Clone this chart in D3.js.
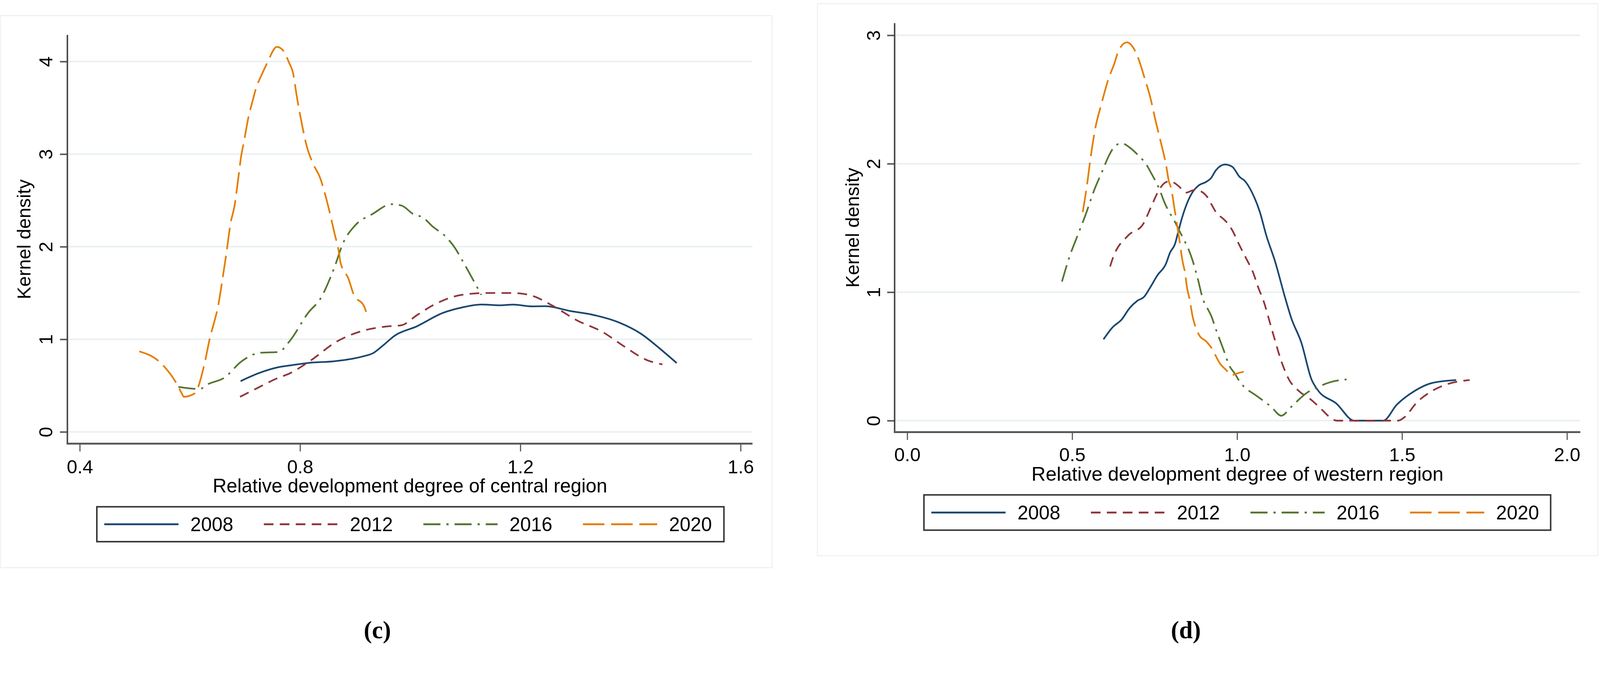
<!DOCTYPE html>
<html>
<head>
<meta charset="utf-8">
<script src="https://cdn.jsdelivr.net/npm/d3@7"></script>
<style>
  html, body { margin: 0; padding: 0; background: #fff; width: 100%; height: 100%; overflow: hidden; }
  svg { display: block; width: 100vw; height: 100vh; }
  text { font-family: "Liberation Sans", Arial, sans-serif; fill: #000; }
</style>
</head>
<body>
<svg id="chart"></svg>
<script>
// Years shown in both legends
const years = ["2008", "2012", "2016", "2020"];

// Tick values
const centralXTicks = [0.4, 0.8, 1.2, 1.6];
const centralYTicks = [0, 1, 2, 3, 4];
const westernXTicks = [0.0, 0.5, 1.0, 1.5, 2.0];
const westernYTicks = [0, 1, 2, 3];

// Kernel density, central region: [relative development degree, density]
const central2008 = [[0.692,0.548],[0.724,0.632],[0.758,0.695],[0.781,0.717],[0.815,0.745],[0.862,0.763],
  [0.895,0.79],[0.914,0.815],[0.934,0.855],[0.95,0.93],[0.972,1.04],[1.012,1.14],[1.059,1.284],[1.095,1.345],
  [1.129,1.376],[1.163,1.367],[1.187,1.375],[1.221,1.356],[1.245,1.358],[1.291,1.305],[1.332,1.264],
  [1.378,1.184],[1.419,1.06],[1.454,0.896],[1.484,0.743]];
const central2012 = [[0.691,0.379],[0.724,0.478],[0.758,0.578],[0.781,0.631],[0.815,0.753],[0.868,0.98],
  [0.914,1.092],[0.955,1.137],[0.984,1.152],[1.013,1.264],[1.048,1.388],[1.094,1.48],[1.14,1.50],[1.187,1.50],
  [1.222,1.469],[1.257,1.368],[1.303,1.204],[1.349,1.08],[1.39,0.917],[1.43,0.775],[1.458,0.729]];
const central2016 = [[0.579,0.486],[0.618,0.463],[0.631,0.51],[0.663,0.587],[0.694,0.763],[0.728,0.855],
  [0.761,0.863],[0.781,0.98],[0.8145,1.284],[0.838,1.449],[0.861,1.755],[0.879,2.05],[0.90,2.23],[0.932,2.355],
  [0.966,2.459],[0.984,2.445],[1.007,2.347],[1.022,2.319],[1.042,2.212],[1.065,2.106],[1.082,1.98],
  [1.094,1.858],[1.129,1.48]];
const central2020 = [[0.508,0.87],[0.5435,0.763],[0.5635,0.632],[0.577,0.51],[0.585,0.418],[0.589,0.379],
  [0.607,0.41],[0.614,0.471],[0.626,0.724],[0.637,1.032],[0.644,1.184],[0.651,1.353],[0.659,1.645],
  [0.666,1.92],[0.674,2.258],[0.681,2.44],[0.688,2.748],[0.693,2.976],[0.698,3.13],[0.706,3.39],
  [0.7145,3.59],[0.7194,3.698],[0.731,3.866],[0.7396,3.975],[0.758,4.158],[0.768,4.127],[0.781,3.975],
  [0.7865,3.894],[0.795,3.59],[0.804,3.304],[0.812,3.088],[0.824,2.892],[0.836,2.749],[0.85,2.463],
  [0.862,2.158],[0.871,1.925],[0.8735,1.827],[0.888,1.653],[0.897,1.49],[0.917,1.346],[0.92,1.296]];

// Kernel density, western region
const western2008 = [[0.595,0.633],[0.623,0.728],[0.65,0.787],[0.674,0.876],[0.698,0.934],[0.718,0.964],
  [0.735,1.03],[0.758,1.13],[0.784,1.22],[0.797,1.31],[0.812,1.377],[0.821,1.465],[0.834,1.587],
  [0.849,1.697],[0.864,1.775],[0.883,1.83],[0.9055,1.858],[0.92,1.885],[0.936,1.95],[0.963,1.994],
  [0.985,1.977],[1.008,1.896],[1.023,1.867],[1.046,1.772],[1.069,1.624],[1.088,1.446],[1.115,1.24],
  [1.145,0.962],[1.164,0.80],[1.195,0.605],[1.2255,0.321],[1.244,0.24],[1.301,0.133],[1.355,0],
  [1.443,0],[1.484,0.124],[1.538,0.231],[1.591,0.293],[1.664,0.316]];
const western2012 = [[0.615,1.20],[0.623,1.263],[0.67,1.442],[0.714,1.526],[0.741,1.675],[0.765,1.803],
  [0.78,1.85],[0.797,1.864],[0.808,1.853],[0.823,1.825],[0.8455,1.775],[0.864,1.792],[0.875,1.798],
  [0.89,1.786],[0.909,1.743],[0.924,1.676],[0.939,1.61],[0.954,1.58],[0.969,1.543],[0.984,1.488],
  [1.007,1.366],[1.029,1.255],[1.048,1.156],[1.066,1.023],[1.076,0.962],[1.107,0.695],[1.134,0.463],
  [1.157,0.321],[1.187,0.231],[1.2255,0.16],[1.256,0.088],[1.286,0.017],[1.3015,0],[1.488,0],
  [1.507,0.026],[1.545,0.142],[1.591,0.231],[1.637,0.284],[1.705,0.316]];
const western2016 = [[0.469,1.082],[0.4926,1.281],[0.5165,1.442],[0.54,1.598],[0.568,1.803],[0.592,1.946],
  [0.611,2.061],[0.631,2.14],[0.65,2.159],[0.674,2.127],[0.702,2.061],[0.722,2.004],[0.741,1.92],
  [0.763,1.81],[0.782,1.686],[0.795,1.62],[0.808,1.565],[0.823,1.488],[0.834,1.432],[0.853,1.332],
  [0.864,1.255],[0.879,1.122],[0.898,0.934],[0.909,0.879],[0.924,0.80],[0.931,0.746],[0.958,0.558],
  [0.977,0.425],[0.992,0.37],[1.014,0.282],[1.024,0.257],[1.058,0.195],[1.1035,0.107],[1.134,0.038],
  [1.164,0.107],[1.21,0.214],[1.241,0.257],[1.286,0.302],[1.332,0.321]];
const western2020 = [[0.532,1.624],[0.544,1.816],[0.556,2.049],[0.5716,2.295],[0.587,2.449],[0.611,2.668],
  [0.6265,2.77],[0.642,2.887],[0.666,2.945],[0.686,2.90],[0.702,2.81],[0.718,2.68],[0.737,2.514],
  [0.753,2.333],[0.769,2.165],[0.785,1.985],[0.793,1.864],[0.80,1.81],[0.81,1.653],[0.823,1.443],
  [0.836,1.223],[0.841,1.168],[0.849,1.023],[0.855,0.957],[0.866,0.80],[0.872,0.745],[0.8866,0.659],
  [0.9055,0.619],[0.92,0.575],[0.9505,0.436],[0.965,0.399],[0.984,0.354],[0.9955,0.364],[1.02,0.381]];

// Line styles per year (Stata s2color look)
const lineStyles = [
  { color: "#1a476f", dash: null },
  { color: "#90353b", dash: "26,17" },
  { color: "#55752f", dash: "46,16,6,16" },
  { color: "#e37e00", dash: "58,18" }
];

// fixed drawing space, scaled to the window width, pinned to the top
const svg = d3.select("#chart")
  .attr("viewBox", "0 0 4312 1768")
  .attr("preserveAspectRatio", "xMidYMin meet");

function drawPanel(p) {
  const g = svg.append("g");

  // faint graph region border
  g.append("rect")
    .attr("x", p.frame[0]).attr("y", p.frame[1])
    .attr("width", p.frame[2] - p.frame[0]).attr("height", p.frame[3] - p.frame[1])
    .attr("fill", "#fff").attr("stroke", "#f1f1f1").attr("stroke-width", 3);

  const x = d3.scaleLinear().domain(p.xDomain).range(p.xRange);
  const y = d3.scaleLinear().domain(p.yDomain).range(p.yRange);

  // grid lines
  g.selectAll(".grid")
    .data(p.yTicks)
    .join("line")
    .attr("x1", p.plot.left).attr("x2", p.plot.right)
    .attr("y1", d => y(d)).attr("y2", d => y(d))
    .attr("stroke", "#e8f0f1").attr("stroke-width", 4);

  // Y axis
  const yAxis = g.append("g")
    .attr("transform", `translate(${p.plot.left},0)`)
    .call(d3.axisLeft(y).tickValues(p.yTicks).tickFormat(d3.format("d")).tickSize(20));
  yAxis.select(".domain").remove();
  yAxis.selectAll(".tick line").attr("stroke", "#555").attr("stroke-width", 4);
  yAxis.selectAll(".tick text")
    .attr("x", 0).attr("y", p.yLabelBase).attr("dy", null)
    .attr("text-anchor", "middle")
    .attr("transform", "rotate(-90)")
    .style("font-size", "51px");

  // X axis
  const xAxis = g.append("g")
    .attr("transform", `translate(0,${p.plot.bottom})`)
    .call(d3.axisBottom(x).tickValues(p.xTicks).tickFormat(d3.format(".1f")).tickSize(21).tickPadding(p.xPad));
  xAxis.select(".domain").remove();
  xAxis.selectAll(".tick line").attr("stroke", "#555").attr("stroke-width", 3);
  xAxis.selectAll(".tick text").style("font-size", "51px");

  // axis lines
  g.append("line")
    .attr("x1", p.plot.left).attr("x2", p.plot.left)
    .attr("y1", p.plot.top).attr("y2", p.plot.bottom + 2)
    .attr("stroke", "#444").attr("stroke-width", 4);
  g.append("line")
    .attr("x1", p.plot.left - 2).attr("x2", p.plot.right)
    .attr("y1", p.plot.bottom).attr("y2", p.plot.bottom)
    .attr("stroke", "#555").attr("stroke-width", 5);

  // density lines
  const line = d3.line()
    .x(d => x(d[0]))
    .y(d => y(d[1]))
    .curve(d3.curveMonotoneX);

  p.series.forEach((s, i) => {
    g.append("path")
      .datum(s)
      .attr("d", line)
      .attr("fill", "none")
      .attr("stroke", lineStyles[i].color)
      .attr("stroke-width", 4.5)
      .attr("stroke-dasharray", lineStyles[i].dash);
  });

  // axis titles
  g.append("text")
    .attr("transform", `translate(${p.yTitleX},${(p.plot.top + p.plot.bottom) / 2}) rotate(-90)`)
    .attr("text-anchor", "middle")
    .style("font-size", "51px")
    .text("Kernel density");
  g.append("text")
    .attr("x", (p.plot.left + p.plot.right) / 2)
    .attr("y", p.xTitleY)
    .attr("text-anchor", "middle")
    .style("font-size", p.xTitleSize + "px")
    .text(p.xTitle);

  // legend
  const L = p.legend;
  const lg = g.append("g");
  lg.append("rect")
    .attr("x", L.x).attr("y", L.y).attr("width", L.w).attr("height", L.h)
    .attr("fill", "#fff").attr("stroke", "#333").attr("stroke-width", 4);
  years.forEach((yr, i) => {
    const x0 = L.x + 20 + i * 430;
    const cy = L.y + L.h / 2;
    lg.append("line")
      .attr("x1", x0).attr("x2", x0 + 200)
      .attr("y1", cy).attr("y2", cy)
      .attr("stroke", lineStyles[i].color)
      .attr("stroke-width", 5)
      .attr("stroke-dasharray", lineStyles[i].dash);
    lg.append("text")
      .attr("x", x0 + 232).attr("y", cy + 19)
      .style("font-size", "52px")
      .text(yr);
  });

  // panel label
  svg.append("text")
    .attr("x", p.labelX).attr("y", 1719)
    .attr("text-anchor", "middle")
    .style("font-family", "'Liberation Serif', 'Times New Roman', serif")
    .style("font-weight", "bold")
    .style("font-size", "66px")
    .text(p.label);
}

drawPanel({
  frame: [1, 42, 2081, 1529],
  plot: { left: 181.6, right: 2028, top: 94, bottom: 1195 },
  xDomain: [0.4, 1.6], xRange: [215, 1996],
  yDomain: [0, 4], yRange: [1163.3, 165.7],
  xTicks: centralXTicks, yTicks: centralYTicks,
  xPad: 23, yLabelBase: -41, yTitleX: 82, xTitleY: 1326, xTitleSize: 52,
  xTitle: "Relative development degree of central region",
  series: [central2008, central2012, central2016, central2020],
  legend: { x: 261, y: 1365, w: 1690, h: 94 },
  label: "(c)", labelX: 1017
});

drawPanel({
  frame: [2203, 10, 4306, 1497],
  plot: { left: 2411, right: 4259, top: 62.5, bottom: 1164 },
  xDomain: [0, 2], xRange: [2445, 4223],
  yDomain: [0, 3], yRange: [1133, 95],
  xTicks: westernXTicks, yTicks: westernYTicks,
  xPad: 21, yLabelBase: -39, yTitleX: 2315, xTitleY: 1295, xTitleSize: 53,
  xTitle: "Relative development degree of western region",
  series: [western2008, western2012, western2016, western2020],
  legend: { x: 2490, y: 1333, w: 1689, h: 95 },
  label: "(d)", labelX: 3196
});
</script>
</body>
</html>
